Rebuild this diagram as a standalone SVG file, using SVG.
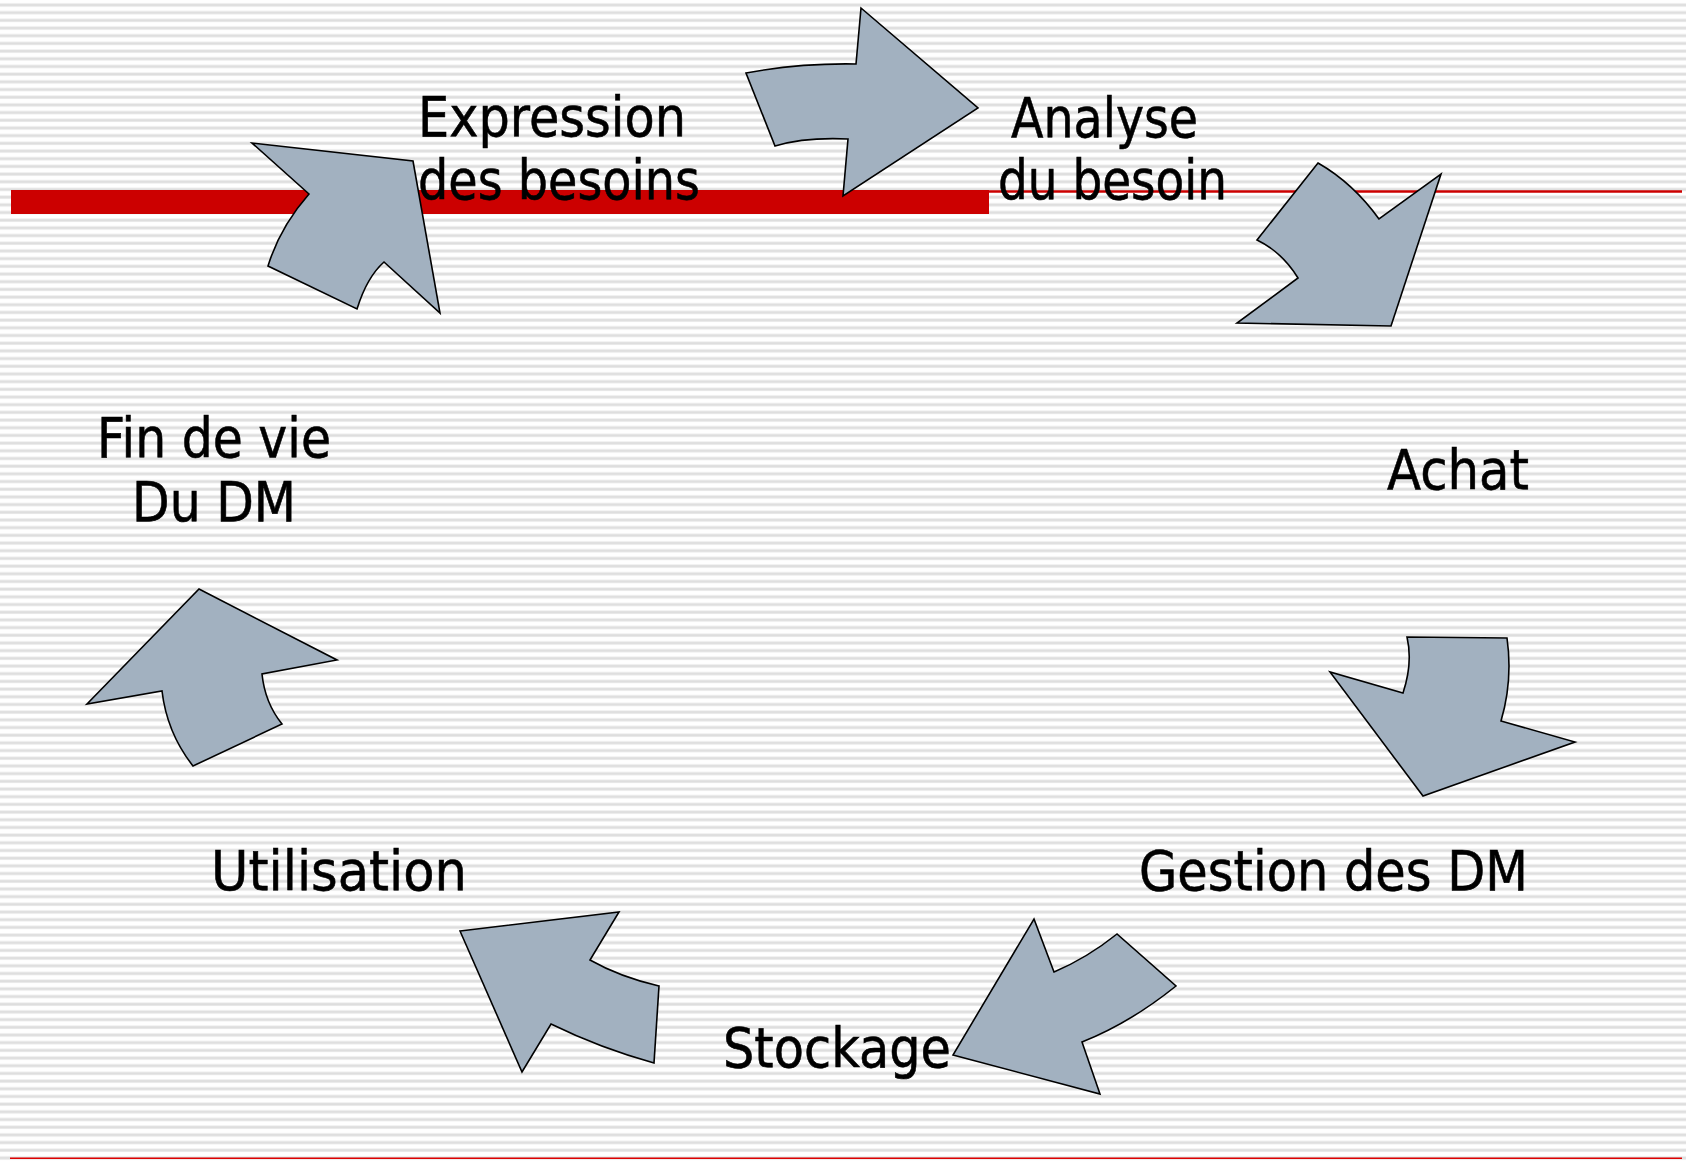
<svg xmlns="http://www.w3.org/2000/svg" width="1686" height="1162" viewBox="0 0 1686 1162">
  <defs>
    <!-- ruled-paper background -->
    <pattern id="rules" patternUnits="userSpaceOnUse" x="0" y="0" width="40" height="7.6865">
      <rect x="0" y="3.2" width="40" height="3.6" fill="#ececec"/>
      <rect x="0" y="4" width="40" height="2" fill="#dedede"/>
    </pattern>
    <style>
      .lbl { font-family: "DejaVu Sans", "Liberation Sans", sans-serif; font-size: 55px; fill: #000; stroke: #000; stroke-width: 0.6; }
      .arrow { fill: #a2b1c0; stroke: #000; stroke-width: 1.6; stroke-linejoin: miter; }
      .rule { stroke: #cc0000; fill: none; }
    </style>
  </defs>

  <rect width="1686" height="1162" fill="#ffffff"/>
  <rect width="1686" height="1162" fill="url(#rules)"/>

  <!-- title bar rules -->
  <rect x="11" y="190" width="978" height="24" fill="#cc0000"/>
  <line class="rule" x1="989" y1="191.5" x2="1682" y2="191.5" stroke-width="2.4"/>
  <line x1="10" y1="1158.3" x2="1682" y2="1158.3" stroke="#dd0000" stroke-width="1.6"/>

  <!-- cycle arrows -->
  <g id="connectors">
    <path class="arrow" d="M746,73 Q800,63 856,64 L861,8 L978,108 L843,196 L848,139 Q805,137 775,146 Z"/>
    <path class="arrow" d="M1318,163 Q1353,183 1379,219 L1441,174 L1391,326 L1237,323 L1298,278 Q1282,252 1257,240 Z"/>
    <path class="arrow" d="M1407,637 L1507,638 Q1513,680 1501,721 L1575,742 L1423,796 L1330,672 L1403,693 Q1413,663 1407,637 Z"/>
    <path class="arrow" d="M1034,919 L1054,972 Q1087,958 1117,934 L1176,986 Q1130,1023 1082,1042 L1100,1094 L953,1055 Z"/>
    <path class="arrow" d="M460,931 L619,912 L590,960 Q620,977 659,986 L654,1063 Q600,1048 551,1024 L522,1072 Z"/>
    <path class="arrow" d="M199,589 L337,660 L262,674 Q265,703 282,724 L193,766 Q167,733 162,691 L87,704 Z"/>
    <path class="arrow" d="M413,161 L440,313 L384,262 Q367,277 357,309 L268,266 Q280,227 309,194 L252,143 Z"/>
  </g>

  <!-- stage labels -->
  <g id="node-expression">
    <text class="lbl" x="418" y="136" textLength="268" lengthAdjust="spacingAndGlyphs">Expression</text>
    <text class="lbl" x="418" y="199" textLength="282" lengthAdjust="spacingAndGlyphs">des besoins</text>
  </g>
  <g id="node-analyse">
    <text class="lbl" x="1011" y="137" textLength="187" lengthAdjust="spacingAndGlyphs">Analyse</text>
    <text class="lbl" x="998" y="199" textLength="229" lengthAdjust="spacingAndGlyphs">du besoin</text>
  </g>
  <g id="node-achat">
    <text class="lbl" x="1387" y="489" textLength="142" lengthAdjust="spacingAndGlyphs">Achat</text>
  </g>
  <g id="node-gestion">
    <text class="lbl" x="1139" y="890" textLength="389" lengthAdjust="spacingAndGlyphs">Gestion des DM</text>
  </g>
  <g id="node-stockage">
    <text class="lbl" x="723" y="1067" textLength="228" lengthAdjust="spacingAndGlyphs">Stockage</text>
  </g>
  <g id="node-utilisation">
    <text class="lbl" x="211" y="890" textLength="256" lengthAdjust="spacingAndGlyphs">Utilisation</text>
  </g>
  <g id="node-fin-de-vie">
    <text class="lbl" x="97" y="457" textLength="234" lengthAdjust="spacingAndGlyphs">Fin de vie</text>
    <text class="lbl" x="132" y="521" textLength="164" lengthAdjust="spacingAndGlyphs">Du DM</text>
  </g>
</svg>
